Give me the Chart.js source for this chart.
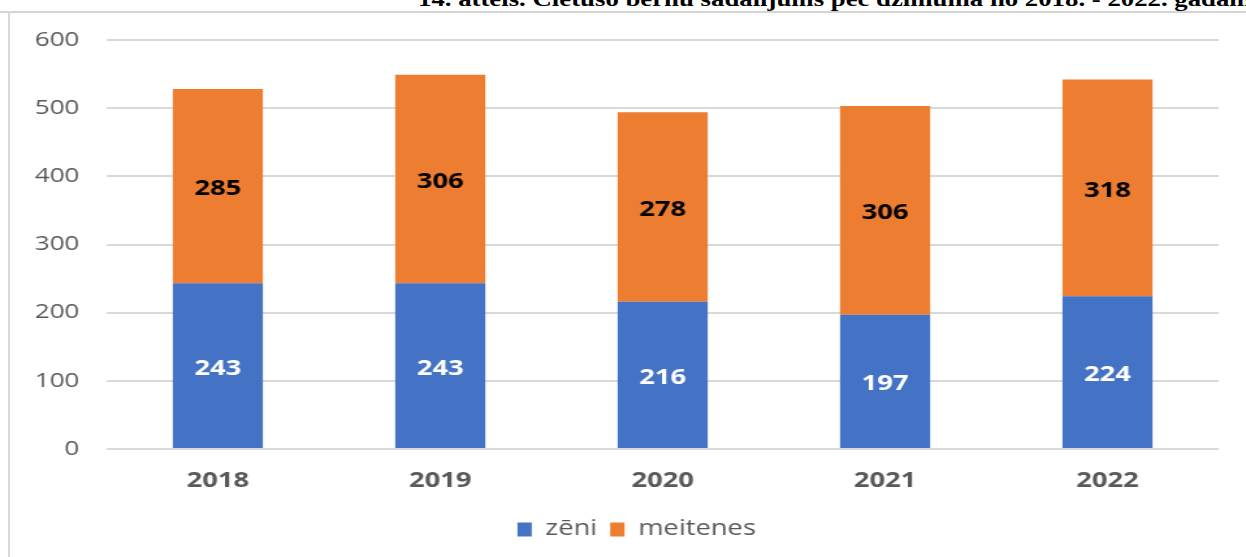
<!DOCTYPE html>
<html>
<head>
<meta charset="utf-8">
<script src="https://cdn.jsdelivr.net/npm/chart.js@4/dist/chart.umd.min.js"></script>
<style>
  body { margin: 0; width: 1246px; height: 557px; overflow: hidden; background: #fff; position: relative; }
  .title {
    position: absolute; left: 418px; top: -11px;
    font-family: "Liberation Serif", serif; font-weight: bold; font-size: 20.6px; line-height: 21px;
    white-space: nowrap; transform: scaleX(1.3); transform-origin: 0 0; color: #000;
  }
  .frame-top { position: absolute; left: 0; top: 11px; width: 1246px; height: 2px; background: #d4d4d4; }
  .frame-left { position: absolute; left: 8px; top: 11px; width: 2px; height: 546px; background: #d9d9d9; }
  #chart { position: absolute; left: 0; top: 0; }
</style>
</head>
<body>
<div class="title">14. attēls. Cietušo bērnu sadalījums pēc dzimuma no 2018. - 2022. gadam</div>
<div class="frame-top"></div>
<div class="frame-left"></div>
<canvas id="chart" width="958" height="557" style="width:1246px;height:557px"></canvas>
<script>
const years = ["2018", "2019", "2020", "2021", "2022"];
const boys = [243, 243, 216, 197, 224];
const girls = [285, 306, 278, 306, 318];
const yTicks = [0, 100, 200, 300, 400, 500, 600];

const textGray = "#595959";
const fontFamily = "'Open Sans', sans-serif";

// values written in the middle of each segment
const segmentLabels = {
  id: "segmentLabels",
  afterDatasetsDraw(chart) {
    const ctx = chart.ctx;
    ctx.save();
    ctx.font = "bold 21px " + fontFamily;
    ctx.textAlign = "center";
    ctx.textBaseline = "middle";
    chart.data.datasets.forEach((ds, i) => {
      const meta = chart.getDatasetMeta(i);
      ctx.fillStyle = i === 0 ? "#ffffff" : "#000000";
      meta.data.forEach((bar, j) => {
        ctx.fillText(String(ds.data[j]), bar.x, (bar.y + bar.base) / 2 + 3);
      });
    });
    ctx.restore();
  },
};

// legend sits a bit right of the centre in the original
const legendShift = {
  id: "legendShift",
  afterLayout(chart) {
    chart.legend.left += 11;
    chart.legend.right += 11;
  },
};

new Chart(document.getElementById("chart"), {
  type: "bar",
  data: {
    labels: years,
    datasets: [
      {
        label: "zēni",
        data: boys,
        backgroundColor: "#4472c4",
        categoryPercentage: 1,
        barPercentage: 0.405,
      },
      {
        label: "meitenes",
        data: girls,
        backgroundColor: "#ed7d31",
        categoryPercentage: 1,
        barPercentage: 0.405,
      },
    ],
  },
  options: {
    responsive: false,
    animation: false,
    devicePixelRatio: 1,
    layout: { padding: { left: 20, right: 21, top: 40, bottom: 7 } },
    plugins: {
      tooltip: { enabled: false },
      legend: {
        position: "bottom",
        labels: {
          color: textGray,
          font: { family: fontFamily, size: 21 },
          boxWidth: 11,
          boxHeight: 14,
          padding: 10,
        },
      },
    },
    scales: {
      x: {
        stacked: true,
        grid: { display: false },
        border: { display: false },
        ticks: { color: textGray, font: { family: fontFamily, size: 21, weight: "bold" }, padding: 11 },
        afterFit: (scale) => { scale.height = 60; },
      },
      y: {
        stacked: true,
        min: 0,
        max: 600,
        afterBuildTicks: (scale) => { scale.ticks = yTicks.map((v) => ({ value: v })); },
        grid: { color: "#d9d9d9", lineWidth: 2, drawTicks: false },
        border: { display: false },
        ticks: { color: textGray, font: { family: fontFamily, size: 20 }, padding: 21 },
        afterFit: (scale) => { scale.width = 62; },
      },
    },
  },
  plugins: [segmentLabels, legendShift],
});
</script>
</body>
</html>
